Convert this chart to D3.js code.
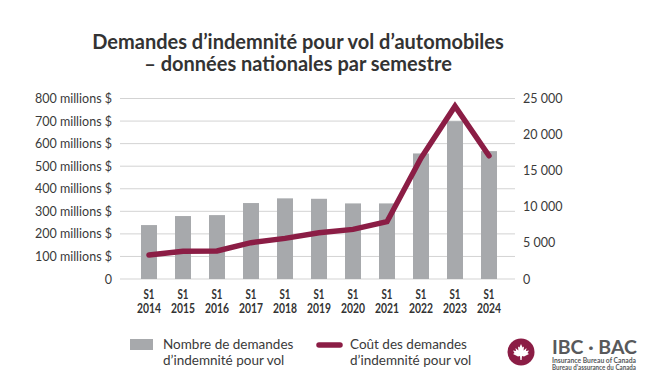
<!DOCTYPE html>
<html>
<head>
<meta charset="utf-8">
<script src="https://cdn.jsdelivr.net/npm/d3@7"></script>
<style>
	body { margin:0; background:#fff; }
	svg text { font-family: Lato, "Open Sans", sans-serif; fill:#3a3a3a; }
</style>
</head>
<body>
<div id="chart"></div>
<script>
// data
const semestres = ['2014','2015','2016','2017','2018','2019','2020','2021','2022','2023','2024'];
// number of theft claims (right axis)
const nombreDemandes = [7470, 8720, 8850, 10520, 11170, 11110, 10470, 10470, 17390, 21860, 17710];
// cost of theft claims, millions $ (left axis)
const coutDemandes = [106, 123, 124, 161, 180, 205, 220, 254, 536, 766, 546];
const ticksGauche = [0,100,200,300,400,500,600,700,800];
const ticksDroite = [0,5000,10000,15000,20000,25000];
const titre = ['Demandes d’indemnité pour vol d’automobiles','– données nationales par semestre'];
const legende = [
	['Nombre de demandes','d’indemnité pour vol'],
	['Coût des demandes','d’indemnité pour vol']
];

const width = 650, height = 390;
const grey = '#a7a9ac', maroon = '#8b1d45';

const svg = d3.select('#chart').append('svg')
	.attr('width',width).attr('height',height);

// scales
const x = d3.scaleBand().domain(semestres).range([132,506])
	.paddingInner(0.53).paddingOuter(0.265);
const yL = d3.scaleLinear().domain([0,800]).range([279,98.5]);
const yR = d3.scaleLinear().domain([0,25000]).range([279,98.5]);

// title
svg.append('g').selectAll('text').data(titre).enter().append('text')
	.attr('x',298).attr('y',(d,i)=>49+i*22)
	.attr('text-anchor','middle')
	.style('font-size','20px').style('font-weight','bold').style('fill','#333')
	.text(d=>d);

// gridlines
svg.append('g').selectAll('line').data(ticksGauche).enter().append('line')
	.attr('x1',120).attr('x2',515)
	.attr('y1',d=>yL(d)).attr('y2',d=>yL(d))
	.attr('stroke','#d3d3d3').attr('stroke-width',1);

// left axis
const axeG = svg.append('g').attr('transform','translate(112,0)')
	.call(d3.axisLeft(yL).tickValues(ticksGauche).tickSize(0).tickPadding(0)
		.tickFormat(d=> d==0 ? '0' : d+' millions $'));
axeG.select('.domain').remove();
axeG.selectAll('text').style('font-size','12.5px').attr('fill','#3a3a3a');

// right axis
const fmt = d => d==0 ? '0' : d3.format(',')(d).replace(',','\u00a0');
const axeD = svg.append('g').attr('transform','translate(523,0)')
	.call(d3.axisRight(yR).tickValues(ticksDroite).tickSize(0).tickPadding(0)
		.tickFormat(fmt));
axeD.select('.domain').remove();
axeD.selectAll('text').style('font-size','12.5px').attr('fill','#3a3a3a');

// bars
svg.append('g').selectAll('rect').data(nombreDemandes).enter().append('rect')
	.attr('x',(d,i)=>x(semestres[i]))
	.attr('width',x.bandwidth())
	.attr('y',d=>yR(d))
	.attr('height',d=>yR(0)-yR(d))
	.attr('fill',grey);

// cost line
const ligne = d3.line()
	.x((d,i)=>x(semestres[i])+x.bandwidth()/2)
	.y(d=>yL(d));
svg.append('path').datum(coutDemandes)
	.attr('d',ligne)
	.attr('fill','none').attr('stroke',maroon)
	.attr('stroke-width',5.5).attr('stroke-linejoin','miter').attr('stroke-linecap','round');

// x labels (condensed look via textLength)
const xg = svg.append('g').selectAll('g').data(semestres).enter().append('g');
xg.append('text')
	.attr('x',d=>x(d)+x.bandwidth()/2 - 5.5).attr('y',299)
	.attr('textLength',11).attr('lengthAdjust','spacingAndGlyphs')
	.style('font-size','12.5px').style('font-weight','bold').style('fill','#333')
	.text('S1');
xg.append('text')
	.attr('x',d=>x(d)+x.bandwidth()/2 - 12).attr('y',313)
	.attr('textLength',24).attr('lengthAdjust','spacingAndGlyphs')
	.style('font-size','12.5px').style('font-weight','bold').style('fill','#333')
	.text(d=>d);

// legend
const leg = svg.append('g');
leg.append('rect').attr('x',130).attr('y',339).attr('width',23).attr('height',11).attr('fill',grey);
leg.append('line').attr('x1',319).attr('x2',340).attr('y1',345).attr('y2',345)
	.attr('stroke',maroon).attr('stroke-width',5.5).attr('stroke-linecap','round');
[163,350].forEach((lx,k)=>{
	leg.append('g').selectAll('text').data(legende[k]).enter().append('text')
		.attr('x',lx).attr('y',(d,i)=>349+i*16)
		.style('font-size','13.5px')
		.text(d=>d);
});

// logo
const logo = svg.append('g').attr('transform','translate(521,352)');
logo.append('circle').attr('r',13.5).attr('fill',maroon);
logo.append('path')
	.attr('d','M0,-8 L1.6,-4.5 L3,-5.5 L2.6,-1.5 L5.5,-4 L5,-1 L8,-1.5 L6.5,1 L8,2 L3,4.5 L1,4 L0.6,8 L-0.6,8 L-1,4 L-3,4.5 L-8,2 L-6.5,1 L-8,-1.5 L-5,-1 L-5.5,-4 L-2.6,-1.5 L-3,-5.5 L-1.6,-4.5 Z')
	.attr('fill','#fff');
logo.append('text').attr('x',31).attr('y',2)
	.attr('textLength',85).attr('lengthAdjust','spacingAndGlyphs')
	.style('font-size','18px').style('font-weight','bold').style('fill','#58595b')
	.text('IBC · BAC');
logo.append('g').selectAll('text')
	.data(['Insurance Bureau of Canada','Bureau d’assurance du Canada']).enter().append('text')
	.attr('x',31).attr('y',(d,i)=>10.5+i*7.5)
	.attr('textLength',84).attr('lengthAdjust','spacingAndGlyphs')
	.style('font-size','7px').style('font-weight','bold').style('fill','#58595b')
	.text(d=>d);
</script>
</body>
</html>
